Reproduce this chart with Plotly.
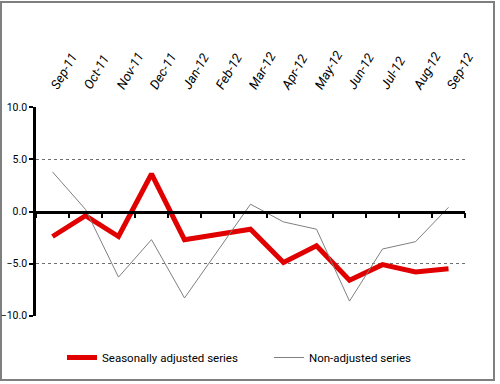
import plotly.graph_objects as go

months = ["Sep-11", "Oct-11", "Nov-11", "Dec-11", "Jan-12", "Feb-12", "Mar-12",
          "Apr-12", "May-12", "Jun-12", "Jul-12", "Aug-12", "Sep-12"]
seasonally_adjusted = [-2.4, -0.4, -2.4, 3.6, -2.7, -2.2, -1.7, -4.9, -3.3, -6.6, -5.1, -5.8, -5.5]
non_adjusted = [3.8, 0.2, -6.3, -2.7, -8.3, -3.8, 0.7, -1.0, -1.7, -8.6, -3.6, -2.9, 0.4]
y_ticks = [-10, -5, 0, 5, 10]

FONT = "Liberation Sans Narrow, Arial Narrow, Roboto, Liberation Sans, sans-serif"
W, H = 500, 384
ML, MR, MT, MB = 36, 35, 107, 68
PW, PH = W - ML - MR, H - MT - MB

fig = go.Figure()
fig.add_trace(go.Scatter(x=months, y=seasonally_adjusted, mode="lines",
                         name="Seasonally adjusted series",
                         line=dict(color="#e00000", width=5), xaxis="x", yaxis="y"))
fig.add_trace(go.Scatter(x=months, y=non_adjusted, mode="lines",
                         name="Non-adjusted series",
                         line=dict(color="#808080", width=1), xaxis="x2", yaxis="y"))

fig.update_layout(
    width=W, height=H,
    margin=dict(l=ML, r=MR, t=MT, b=MB, autoexpand=False),
    paper_bgcolor="white", plot_bgcolor="white",
    font=dict(family=FONT, size=12, color="black"),
    showlegend=True,
    legend=dict(orientation="h", x=(62 - ML) / PW, xanchor="left",
                y=-(343 - (MT + PH)) / PH, yanchor="top",
                font=dict(family=FONT, size=11.5, color="black"),
                itemwidth=30, entrywidthmode="pixels", entrywidth=162,
                bgcolor="rgba(0,0,0,0)"),
    xaxis=dict(type="category", categoryorder="array", categoryarray=months,
               range=[-0.5, 12.5], side="top", showgrid=False, showline=False,
               ticks="", tickangle=-60, zeroline=False, automargin=False,
               ticklabelstandoff=10,
               tickfont=dict(family=FONT, size=13, color="black", style="italic")),
    xaxis2=dict(type="category", categoryorder="array", categoryarray=months,
                range=[-0.5, 12.5], overlaying="x", anchor="free", position=0.5,
                side="bottom", showgrid=False, showline=True, linecolor="black", linewidth=2.5,
                ticks="outside", tickson="boundaries", ticklen=5, tickwidth=2, tickcolor="black",
                showticklabels=False, zeroline=False, automargin=False),
    yaxis=dict(range=[-10.03, 10.03], tickvals=y_ticks, tickformat=".1f",
               showgrid=True, gridcolor="#6f6f6f", griddash="3px,3px", gridwidth=1,
               zeroline=False, showline=True, linecolor="black", linewidth=2.5,
               ticks="outside", ticklen=4, tickwidth=2, tickcolor="black", automargin=False,
               ticklabelstandoff=0,
               tickfont=dict(family=FONT, size=10.5, color="black")),
    shapes=[dict(type="rect", xref="paper", yref="paper",
                 x0=-(ML - 1) / PW, x1=1 + (494 - (ML + PW)) / PW,
                 y0=-(380 - (MT + PH)) / PH, y1=1 + (MT - 2) / PH,
                 line=dict(color="#7f7f7f", width=2), layer="below")],
)

fig.write_html("out.html", config={"displayModeBar": False},
               post_script="document.body.style.margin='0';document.body.style.overflow='hidden';")
